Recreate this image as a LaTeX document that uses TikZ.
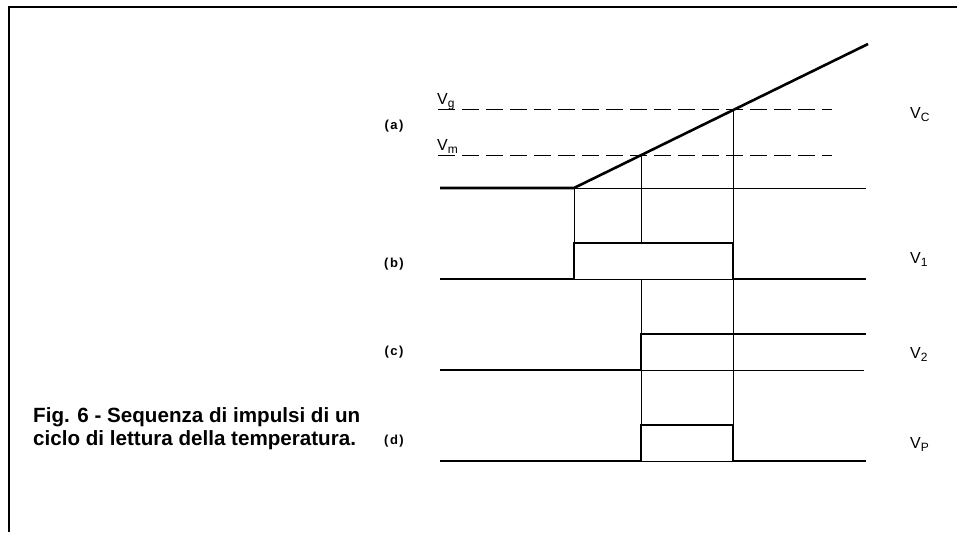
\documentclass[tikz,border=0pt]{standalone}
\usepackage{fontspec}
\setmainfont{Liberation Sans}
\newcommand\vsub[1]{\raisebox{-0.45ex}{\fontsize{12}{12}\selectfont #1}}
\begin{document}
\begin{tikzpicture}[x=1pt,y=-1pt,
  wave/.style={line width=2.6pt, line join=miter, line cap=butt},
  guide/.style={line width=0.8pt},
  refline/.style={line width=1pt, dash pattern=on 17pt off 7pt},
  frameline/.style={line width=2pt},
  lab/.style={font=\bfseries\fontsize{13}{15}\selectfont, inner sep=0pt},
  vlab/.style={font=\fontsize{16}{18}\selectfont, inner sep=0pt, anchor=base west},
  captext/.style={font=\bfseries\fontsize{20.6}{23}\selectfont, inner sep=0pt, anchor=base west},
]
\useasboundingbox (0,0) rectangle (957,532);
\draw[frameline] (9,532) -- (9,7) -- (957,7);

% time marks
\coordinate (ra) at (574,188);
\coordinate (rb) at (868,44);
\coordinate (pm) at (641,155);
\coordinate (pg) at (733,110);

% (a) ramp
\draw[refline] (438,110) -- (832,110);
\draw[refline] (438,155) -- (832,155);
\draw[guide] (ra) -- (866,188);
\draw[wave] (440,188) -- (ra) -- (rb);

% (b)
\draw[guide] (574,279) -- (733,279);
\draw[wave] (440,279) -- (574,279) -- (574,243) -- (733,243) -- (733,279) -- (866,279);

% (c)
\draw[guide] (641,370) -- (864,370);
\draw[wave] (440,370) -- (641,370) -- (641,334) -- (866,334);

% (d)
\draw[guide] (641,461) -- (733,461);
\draw[wave] (440,461) -- (641,461) -- (641,425) -- (733,425) -- (733,461) -- (866,461);

% vertical guides
\draw[guide] (ra) -- (574,243);
\draw[guide] (pm) -- (641,243);
\draw[guide] (641,279) -- (641,334);
\draw[guide] (641,370) -- (641,425);
\draw[guide] (pg) -- (733,243);
\draw[guide] (733,279) -- (733,425);

% row labels
\node[lab] (la) at (394,126) {(\kern1.5pt a\kern1.5pt)};
\node[lab] (lb) at (394,264) {(\kern1.5pt b\kern1.5pt)};
\node[lab] (lc) at (394,352) {(\kern1.5pt c\kern1.5pt)};
\node[lab] (ld) at (394,441) {(\kern1.5pt d\kern1.5pt)};

% level labels
\node[vlab] (vg) at (437,104) {V\vsub{g}};
\node[vlab] (vm) at (437,150) {V\vsub{m}};
\node[vlab] (vc) at (910,118) {V\vsub{C}};
\node[vlab] (v1) at (910,263) {V\vsub{1}};
\node[vlab] (v2) at (910,358) {V\vsub{2}};
\node[vlab] (vp) at (910,448) {V\vsub{P}};

% caption
\node[captext] (cap1) at (33,422) {Fig. 6 - Sequenza di impulsi di un};
\node[captext] (cap2) at (33,445) {ciclo di lettura della temperatura.};
\end{tikzpicture}
\end{document}
